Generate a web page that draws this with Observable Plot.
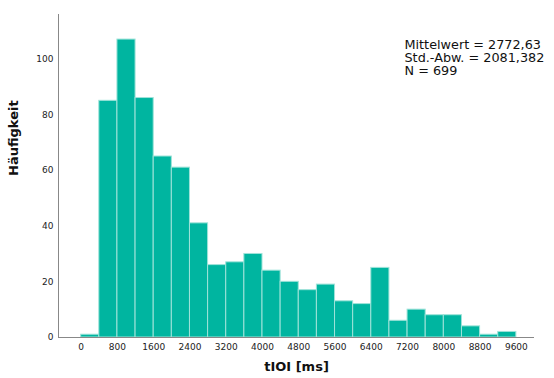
<!DOCTYPE html>
<html>
<head>
<meta charset="utf-8">
<script src="https://cdn.jsdelivr.net/npm/d3@7"></script>
<script src="https://cdn.jsdelivr.net/npm/@observablehq/plot@0.6"></script>
<style>
  html, body { margin: 0; padding: 0; background: #fff; }
  #chart svg { display: block; }
</style>
</head>
<body>
<div id="chart"></div>
<script>
// Histogram of inter-onset intervals (tIOI), bins of 400 ms
const binWidth = 400;
const binLower = [0, 400, 800, 1200, 1600, 2000, 2400, 2800, 3200, 3600, 4000, 4400,
                  4800, 5200, 5600, 6000, 6400, 6800, 7200, 7600, 8000, 8400, 8800, 9200];
const counts   = [1, 85, 107, 86, 65, 61, 41, 26, 27, 30, 24, 20,
                  17, 19, 13, 12, 25, 6, 10, 8, 8, 4, 1, 2];

const xTicks = [0, 800, 1600, 2400, 3200, 4000, 4800, 5600, 6400, 7200, 8000, 8800, 9600];
const yTicks = [0, 20, 40, 60, 80, 100];

const statsLines = ["Mittelwert = 2772,63", "Std.-Abw. = 2081,382", "N = 699"];
const xTitle = "tIOI [ms]";
const yTitle = "Häufigkeit";

const bins = binLower.map((x1, i) => ({x1, x2: x1 + binWidth, count: counts[i]}));

const fill = "#00b5a0";
const font = "DejaVu Sans, Verdana, sans-serif";

// summary statistics in the upper right, one text mark per line
const statsMarks = statsLines.map((line, i) =>
  Plot.text([line], {
    frameAnchor: "top-left", textAnchor: "start", lineAnchor: "top",
    dx: 346, dy: 25 + i * 13.4, fontSize: 12.8, fill: "#111"
  })
);

const chart = Plot.plot({
  width: 554,
  height: 378,
  marginLeft: 58,
  marginRight: 20,
  marginTop: 14,
  marginBottom: 41,
  style: {fontFamily: font, fontSize: "9px", color: "#222", background: "#fff"},
  x: {domain: [-500, 10000]},
  y: {domain: [0, 116]},
  marks: [
    Plot.rectY(bins, {x1: "x1", x2: "x2", y: "count", fill: fill, stroke: "#9fe3d9", strokeWidth: 1}),
    Plot.ruleY([0], {stroke: "#888", strokeWidth: 1}),
    Plot.ruleX([-500], {stroke: "#888", strokeWidth: 1}),
    Plot.axisX({ticks: xTicks, tickSize: 0, tickPadding: 6, label: null, tickFormat: d => String(d)}),
    Plot.axisY({ticks: yTicks, tickSize: 0, tickPadding: 5, label: null}),
    Plot.text([xTitle], {frameAnchor: "bottom", dy: 33, fontWeight: "bold", fontSize: 13, fill: "#111"}),
    Plot.text([yTitle], {frameAnchor: "left", rotate: -90, dx: -45, fontWeight: "bold", fontSize: 13, fill: "#111"}),
    ...statsMarks
  ]
});

document.getElementById("chart").appendChild(chart);
</script>
</body>
</html>
